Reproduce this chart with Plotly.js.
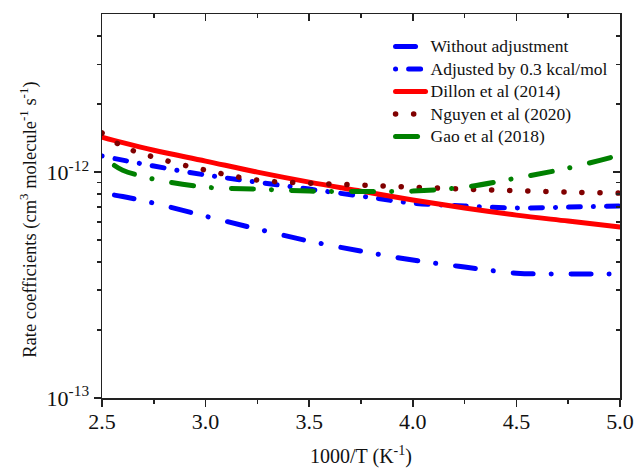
<!DOCTYPE html>
<html>
<head>
<meta charset="utf-8">
<script src="https://cdn.plot.ly/plotly-3.0.1.min.js"></script>
<style>
html,body{margin:0;padding:0;background:#fff;}
#chart{width:634px;height:471px;}
path.js-line{stroke-linecap:round !important;}
svg text{font-family:"Liberation Serif", "Times New Roman", serif !important;}
g.xtick text, g.ytick text{font-size:22px !important;}
text.xtitle{font-size:20px !important;}
text.annotation-text{font-size:18.5px !important;}
text.legendtext{font-size:17.5px !important;}
</style>
</head>
<body>
<div id="chart"></div>
<script>
// Data
var invT = [2.5, 2.6, 2.75, 3.0, 3.25, 3.5, 3.75, 4.0, 4.25, 4.5, 4.75, 5.0];
var invTLate = [2.56, 2.6, 2.75, 3.0, 3.25, 3.5, 3.75, 4.0, 4.25, 4.5, 4.75, 5.0];
var withoutAdj = [7.91e-13, 7.80e-13, 7.29e-13, 6.38e-13, 5.60e-13, 4.95e-13, 4.47e-13, 4.08e-13, 3.80e-13, 3.57e-13, 3.54e-13, 3.54e-13];
var adjusted03 = [1.178e-12, 1.13e-12, 1.064e-12, 9.71e-13, 9.03e-13, 8.41e-13, 7.83e-13, 7.29e-13, 7.08e-13, 6.93e-13, 7.00e-13, 7.08e-13];
var dillon2014 = [1.428e-12, 1.35e-12, 1.25e-12, 1.119e-12, 1.0e-12, 9.03e-13, 8.24e-13, 7.52e-13, 6.93e-13, 6.45e-13, 6.07e-13, 5.71e-13];
var nguyen2020 = [1.49e-12, 1.30e-12, 1.165e-12, 1.02e-12, 9.22e-13, 8.94e-13, 8.76e-13, 8.58e-13, 8.41e-13, 8.28e-13, 8.16e-13, 8.07e-13];
var gao2018 = [1.07e-12, 1.02e-12, 9.31e-13, 8.58e-13, 8.41e-13, 8.24e-13, 8.20e-13, 8.24e-13, 8.58e-13, 9.41e-13, 1.042e-12, 1.19e-12];

var seriesNames = ['Without adjustment', 'Adjusted by 0.3 kcal/mol', 'Dillon et al (2014)', 'Nguyen et al (2020)', 'Gao et al (2018)'];
var xTitle = '1000/T (K<sup>-1</sup>)';
var yTitle = 'Rate coefficients (cm<sup>3</sup> molecule<sup>-1</sup> s<sup>-1</sup>)';

var xTickVals = [2.5, 3.0, 3.5, 4.0, 4.5, 5.0];
var xTickText = ['2.5', '3.0', '3.5', '4.0', '4.5', '5.0'];
var xMinorVals = [2.75, 3.25, 3.75, 4.25, 4.75];
var yTickVals = [1e-13, 1e-12];
var yTickText = ['10<sup>-13</sup>', '10<sup>-12</sup>'];
var yMinorVals = [2e-13, 3e-13, 4e-13, 5e-13, 6e-13, 7e-13, 8e-13, 9e-13, 2e-12, 3e-12, 4e-12];

var FAM = 'Liberation Serif';

var traces = [
  {x: invTLate, y: withoutAdj, name: seriesNames[0], mode: 'lines',
   line: {color: '#0000ff', width: 5, dash: '20px,18px,0.1px,20px', shape: 'spline'}},
  {x: invT, y: adjusted03, name: seriesNames[1], mode: 'lines',
   line: {color: '#0000ff', width: 5, dash: '0.1px,13px,12px,13px', shape: 'spline'}},
  {x: invT, y: dillon2014, name: seriesNames[2], mode: 'lines',
   line: {color: '#ff0000', width: 5, shape: 'spline'}},
  {x: invT, y: nguyen2020, name: seriesNames[3], mode: 'lines',
   line: {color: '#800000', width: 5.5, dash: '0.1px,18px', shape: 'spline'}},
  {x: invTLate, y: gao2018, name: seriesNames[4], mode: 'lines',
   line: {color: '#008000', width: 5, dash: '22px,18px,0.1px,20px', shape: 'spline'}},
  {x: [], y: [], xaxis: 'x2', yaxis: 'y2', showlegend: false, hoverinfo: 'skip', mode: 'lines'}
];

function axisCommon() {
  return {showgrid: false, zeroline: false, showline: true, linecolor: '#222', linewidth: 1.5,
    tickcolor: '#222', tickwidth: 1.5,
    tickfont: {family: FAM, size: 22, color: '#111'}};
}

var layout = {
  width: 634, height: 471,
  margin: {l: 102, r: 14, t: 14, b: 73},
  paper_bgcolor: '#fff', plot_bgcolor: '#fff',
  font: {family: FAM, color: '#111', size: 20},
  showlegend: true,
  legend: {x: 0.557, y: 0.958, xanchor: 'left', yanchor: 'top', bgcolor: 'rgba(0,0,0,0)',
    font: {size: 15, family: FAM, color: '#111'}, tracegroupgap: 0},
  xaxis: Object.assign(axisCommon(), {
    range: [2.5, 5.0], tickmode: 'array', tickvals: xTickVals, ticktext: xTickText,
    ticks: 'outside', ticklen: 7, ticklabelstandoff: -4,
    minor: {tickvals: xMinorVals, ticks: 'outside', ticklen: 4, tickcolor: '#222', tickwidth: 1.5},
    title: {text: xTitle, font: {size: 20, family: FAM, color: '#111'}, standoff: 16}
  }),
  yaxis: Object.assign(axisCommon(), {
    type: 'log', range: [-13, -11.3], tickmode: 'array', tickvals: yTickVals, ticktext: yTickText,
    ticks: 'outside', ticklen: 7,
    minor: {tickvals: yMinorVals, ticks: 'outside', ticklen: 4, tickcolor: '#222', tickwidth: 1.5}
  }),
  xaxis2: Object.assign(axisCommon(), {
    overlaying: 'x', side: 'top', range: [2.5, 5.0], tickmode: 'array', tickvals: xTickVals,
    showticklabels: false, ticks: 'inside', ticklen: 7,
    minor: {tickvals: xMinorVals, ticks: 'inside', ticklen: 4, tickcolor: '#222', tickwidth: 1.5}
  }),
  yaxis2: Object.assign(axisCommon(), {
    overlaying: 'y', side: 'right', type: 'log', range: [-13, -11.3], tickmode: 'array', tickvals: yTickVals,
    showticklabels: false, ticks: 'inside', ticklen: 7,
    minor: {tickvals: yMinorVals, ticks: 'inside', ticklen: 4, tickcolor: '#222', tickwidth: 1.5}
  }),
  annotations: [{
    text: yTitle, xref: 'paper', yref: 'paper', x: -0.141, y: 0.464,
    xanchor: 'center', yanchor: 'middle', textangle: -90, showarrow: false,
    font: {size: 18.5, family: FAM, color: '#111'}
  }]
};

var gd = document.getElementById('chart');
Plotly.newPlot(gd, traces, layout, {staticPlot: true, displayModeBar: false}).then(function () {
  gd.querySelectorAll('text').forEach(function (t) {
    var cs = window.getComputedStyle(t);
    t.setAttribute('font-size', cs.fontSize);
    t.setAttribute('font-family', cs.fontFamily);
  });
});
</script>
</body>
</html>
